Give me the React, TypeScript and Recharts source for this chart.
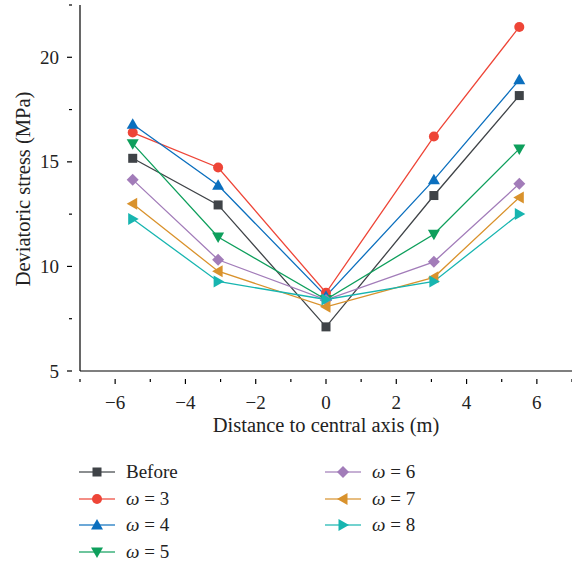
import React from "react";
import { LineChart, Line, XAxis, YAxis } from "recharts";

// distance to central axis (m)
const distance = [-5.5, -3.07, 0, 3.07, 5.5];

// deviatoric stress (MPa)
const before = [15.17, 12.94, 7.11, 13.39, 18.17];
const omega3 = [16.4, 14.73, 8.74, 16.21, 21.45];
const omega4 = [16.8, 13.88, 8.58, 14.14, 18.92];
const omega5 = [15.87, 11.41, 8.42, 11.54, 15.62];
const omega6 = [14.15, 10.32, 8.4, 10.22, 13.95];
const omega7 = [13.0, 9.77, 8.07, 9.48, 13.3];
const omega8 = [12.27, 9.28, 8.42, 9.28, 12.51];

const xTicks = [-7, -6, -5, -4, -3, -2, -1, 0, 1, 2, 3, 4, 5, 6, 7];
const yTicks = [5, 7.5, 10, 12.5, 15, 17.5, 20, 22.5];

type Shape = "square" | "circle" | "up" | "down" | "diamond" | "left" | "right";

const series: { key: string; label: string; omega: boolean; color: string; shape: Shape; values: number[] }[] = [
  { key: "before", label: "Before", omega: false, color: "#3f4347", shape: "square", values: before },
  { key: "w3", label: "3", omega: true, color: "#ee4537", shape: "circle", values: omega3 },
  { key: "w4", label: "4", omega: true, color: "#0b6fbe", shape: "up", values: omega4 },
  { key: "w5", label: "5", omega: true, color: "#0e9f5c", shape: "down", values: omega5 },
  { key: "w6", label: "6", omega: true, color: "#a27cb9", shape: "diamond", values: omega6 },
  { key: "w7", label: "7", omega: true, color: "#d9922c", shape: "left", values: omega7 },
  { key: "w8", label: "8", omega: true, color: "#17b5b0", shape: "right", values: omega8 },
];

const data = distance.map((x, i) => {
  const row: Record<string, number> = { x };
  series.forEach((s) => (row[s.key] = s.values[i]));
  return row;
});

const FONT = "'Liberation Serif', 'DejaVu Serif', serif";

function Marker({ cx, cy, shape, color }: { cx: number; cy: number; shape: Shape; color: string }) {
  const r = 6;
  switch (shape) {
    case "square":
      return <rect x={cx - 4.5} y={cy - 4.5} width={9} height={9} fill={color} />;
    case "circle":
      return <circle cx={cx} cy={cy} r={5} fill={color} />;
    case "up":
      return <polygon points={`${cx},${cy - r} ${cx + r},${cy + 4.5} ${cx - r},${cy + 4.5}`} fill={color} />;
    case "down":
      return <polygon points={`${cx},${cy + r} ${cx + r},${cy - 4.5} ${cx - r},${cy - 4.5}`} fill={color} />;
    case "diamond":
      return <polygon points={`${cx},${cy - r} ${cx + r},${cy} ${cx},${cy + r} ${cx - r},${cy}`} fill={color} />;
    case "left":
      return <polygon points={`${cx - r},${cy} ${cx + 4.5},${cy - r} ${cx + 4.5},${cy + r}`} fill={color} />;
    case "right":
      return <polygon points={`${cx + r},${cy} ${cx - 4.5},${cy - r} ${cx - 4.5},${cy + r}`} fill={color} />;
  }
  return null;
}

function XTick(props: any) {
  const { x, y, payload } = props;
  const major = payload.value % 2 === 0;
  return (
    <g>
      <line x1={x} x2={x} y1={y} y2={y + (major ? 5 : 3)} stroke="#000" strokeWidth={1.2} />
      {major && (
        <text x={x} y={y + 30} textAnchor="middle" fontFamily={FONT} fontSize={19} fill="#222">
          {payload.value < 0 ? "\u2212" + Math.abs(payload.value) : payload.value}
        </text>
      )}
    </g>
  );
}

function YTick(props: any) {
  const { x, y, payload } = props;
  const major = payload.value % 5 === 0;
  return (
    <g>
      <line x1={x} x2={x - (major ? 5 : 3)} y1={y} y2={y} stroke="#000" strokeWidth={1.2} />
      {major && (
        <text x={x - 13} y={y + 6.5} textAnchor="end" fontFamily={FONT} fontSize={19} fill="#222">
          {payload.value}
        </text>
      )}
    </g>
  );
}

function LegendItem({ s }: { s: (typeof series)[number] }) {
  return (
    <div style={{ display: "flex", alignItems: "center", height: 26.5 }}>
      <svg width={40} height={16} style={{ marginRight: 8 }}>
        <line x1={1} x2={37} y1={8} y2={8} stroke={s.color} strokeWidth={1.3} opacity={0.8} />
        <Marker cx={19} cy={8} shape={s.shape} color={s.color} />
      </svg>
      <span style={{ fontFamily: FONT, fontSize: 19, color: "#222" }}>
        {s.omega ? (
          <>
            <i>ω</i> = {s.label}
          </>
        ) : (
          s.label
        )}
      </span>
    </div>
  );
}

export default function App() {
  return (
    <div style={{ position: "absolute", left: 0, top: 0, width: 572, height: 567, background: "#fff" }}>
      <LineChart width={572} height={567} data={data} margin={{ top: 5, right: 0, bottom: 136, left: 0 }}>
        <XAxis
          type="number"
          dataKey="x"
          domain={[-7, 7]}
          ticks={xTicks}
          interval={0}
          tickLine={false}
          tick={<XTick />}
          axisLine={{ stroke: "#000", strokeWidth: 1.2 }}
          height={60}
          label={{
            content: () => (
              <text x={326} y={432} textAnchor="middle" fontFamily={FONT} fontSize={20.5} fill="#222">
                Distance to central axis (m)
              </text>
            ),
          }}
        />
        <YAxis
          type="number"
          domain={[5, 22.5]}
          ticks={yTicks}
          interval={0}
          tickLine={false}
          tick={<YTick />}
          axisLine={{ stroke: "#000", strokeWidth: 1.2 }}
          width={80}
          label={{
            content: () => (
              <text
                x={23}
                y={189}
                transform="rotate(-90 23 189)"
                textAnchor="middle"
                dominantBaseline="central"
                fontFamily={FONT}
                fontSize={20.5}
                fill="#222"
              >
                Deviatoric stress (MPa)
              </text>
            ),
          }}
        />
        {series.map((s) => (
          <Line
            key={s.key}
            dataKey={s.key}
            name={s.key}
            stroke={s.color}
            strokeWidth={1.3}
            isAnimationActive={false}
            activeDot={false}
            dot={(p: any) => <Marker key={`${s.key}-${p.index}`} cx={p.cx} cy={p.cy} shape={s.shape} color={s.color} />}
          />
        ))}
      </LineChart>
      <div style={{ position: "absolute", left: 78, top: 459, display: "flex" }}>
        <div style={{ width: 246 }}>
          {series.slice(0, 4).map((s) => (
            <LegendItem key={s.key} s={s} />
          ))}
        </div>
        <div>
          {series.slice(4).map((s) => (
            <LegendItem key={s.key} s={s} />
          ))}
        </div>
      </div>
    </div>
  );
}
